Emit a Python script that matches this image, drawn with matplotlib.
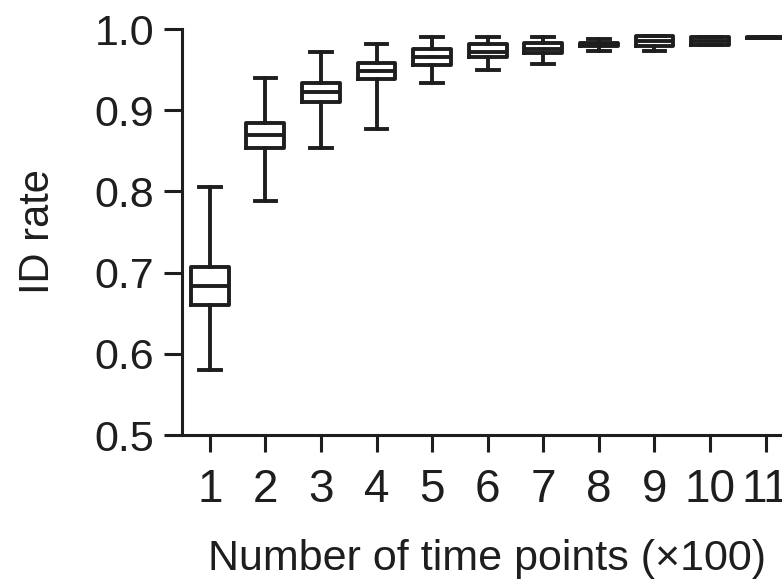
import matplotlib
matplotlib.use("Agg")
import matplotlib.pyplot as plt

plt.rcParams['font.family'] = ['Liberation Sans', 'DejaVu Sans']

# time points (x100)
positions = [1, 2, 3, 4, 5, 6, 7, 8, 9, 10, 11]
tick_labels = ['1', '2', '3', '4', '5', '6', '7', '8', '9', '10', '11']

# box statistics
whishi = [0.805, 0.940, 0.972, 0.981, 0.990, 0.990, 0.990, 0.988, 0.991, 0.9905, 0.9905]
q3 = [0.7065, 0.8846, 0.933, 0.958, 0.975, 0.9815, 0.9824, 0.9825, 0.991, 0.990, 0.9905]
med = [0.683, 0.8695, 0.9228, 0.9487, 0.965, 0.972, 0.976, 0.981, 0.9856, 0.985, 0.9895]
q1 = [0.660, 0.853, 0.9105, 0.939, 0.9557, 0.965, 0.971, 0.9795, 0.979, 0.9805, 0.9885]
whislo = [0.580, 0.788, 0.853, 0.8765, 0.934, 0.9495, 0.957, 0.973, 0.973, 0.980, 0.9885]

stats = []
for i in range(len(positions)):
    stats.append({'whislo': whislo[i], 'q1': q1[i], 'med': med[i],
                  'q3': q3[i], 'whishi': whishi[i], 'fliers': []})

col = '#1e1e1e'
lw = 2.8   # box lines
slw = 2.2  # spines / ticks

fig = plt.figure(figsize=(7.82, 5.85), dpi=100)
# axes runs past the right edge, like the cropped original
ax = fig.add_axes([0.2327, 0.2564, 0.853, 0.694])

ax.bxp(stats, positions=positions, widths=0.68, capwidths=0.39,
       showfliers=False,
       boxprops=dict(color=col, linewidth=lw),
       medianprops=dict(color=col, linewidth=lw),
       whiskerprops=dict(color=col, linewidth=lw),
       capprops=dict(color=col, linewidth=lw))

ax.set_xlim(0.5, 12.5)
ax.set_ylim(0.5, 1.0)
ax.set_yticks([0.5, 0.6, 0.7, 0.8, 0.9, 1.0])
ax.set_yticklabels(['0.5', '0.6', '0.7', '0.8', '0.9', '1.0'])
ax.set_xticks(positions)
ax.set_xticklabels(tick_labels)

ax.spines['top'].set_visible(False)
ax.spines['right'].set_visible(False)
for s in ['left', 'bottom']:
    ax.spines[s].set_linewidth(slw)
    ax.spines[s].set_color(col)

ax.tick_params(axis='y', direction='out', length=13, width=slw, color=col,
               labelsize=31, pad=7, labelcolor=col)
ax.tick_params(axis='x', direction='out', length=12, width=slw, color=col,
               labelsize=33, pad=12, labelcolor=col)

ax.set_ylabel('ID rate', fontsize=30, color=col)
ax.yaxis.set_label_coords(-0.186, 0.5)
ax.set_xlabel('Number of time points (\u00d7100)', fontsize=31, color=col)
ax.xaxis.set_label_coords(0.458, -0.256)

fig.savefig('out.png', dpi=100)
